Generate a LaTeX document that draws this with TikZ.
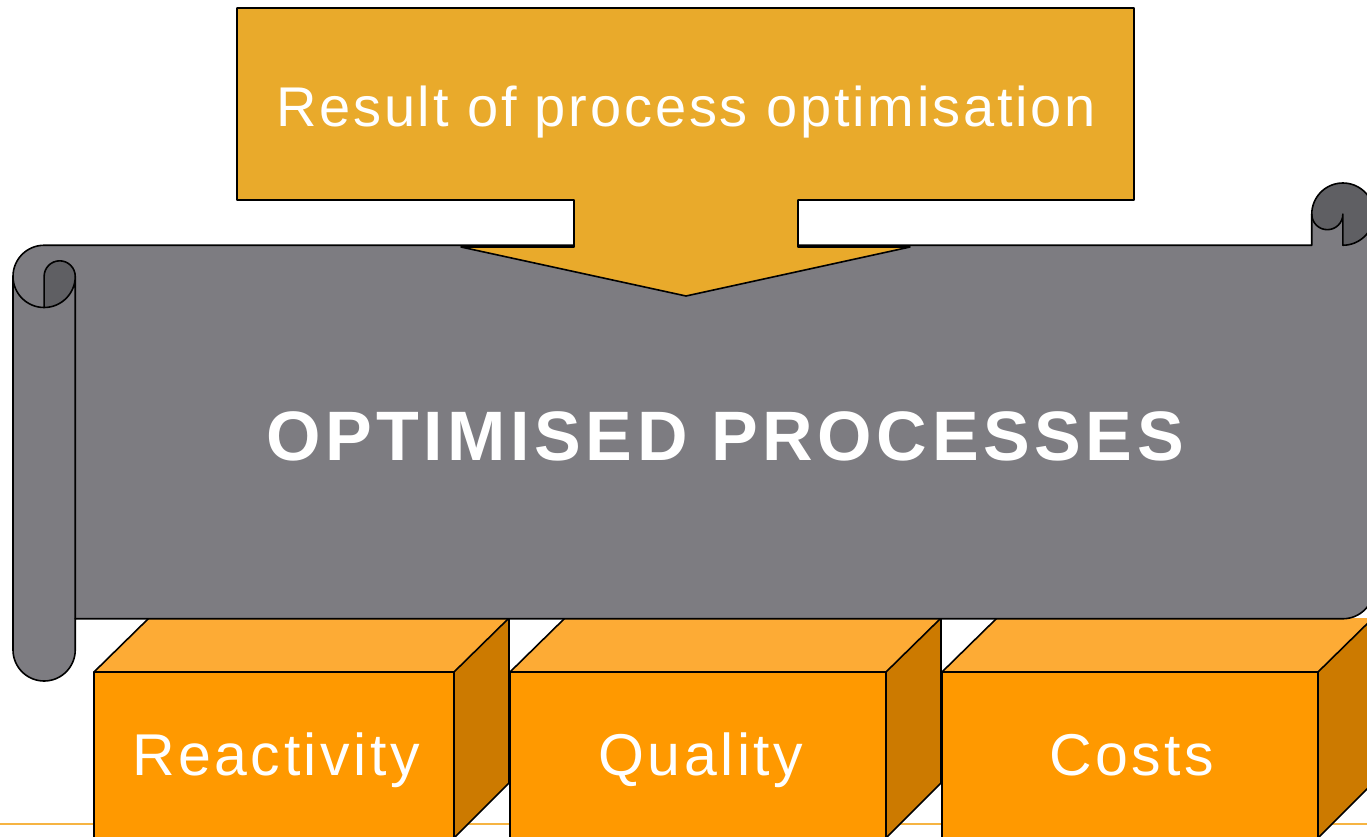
\documentclass[tikz,border=0pt]{standalone}
\usepackage{fontspec}
\setmainfont{Liberation Sans}
\newfontfamily\trackA[LetterSpace=5]{Liberation Sans}
\newfontfamily\trackB[LetterSpace=6.5]{Liberation Sans}
\newfontfamily\trackC[LetterSpace=6]{Liberation Sans}
\definecolor{scrolllight}{HTML}{7D7C81}
\definecolor{scrolldark}{HTML}{5F5F63}
\definecolor{arrowfill}{HTML}{E9AA2B}
\definecolor{boxfront}{HTML}{FF9900}
\definecolor{boxtop}{HTML}{FDAB35}
\definecolor{boxside}{HTML}{CC7A00}
\definecolor{lineorange}{HTML}{F6B443}
\tikzset{
  outl/.style={draw=black, line width=1.6pt, line join=round},
  lbl/.style={text=white, inner sep=0pt, anchor=base},
}
\newcommand{\cube}[3]{% x, width, name
  \fill[boxfront] (#1,672) rectangle (#1+#2,840);
  \fill[boxtop] (#1,672) -- (#1+#2,672) -- (#1+#2+55,618) -- (#1+55,618) -- cycle;
  \fill[boxside] (#1+#2,672) -- (#1+#2+55,618) -- (#1+#2+55,783) -- (#1+#2,838) -- cycle;
  \draw[outl] (#1,840) -- (#1,672) -- (#1+#2,672) -- (#1+#2,840);
  \draw[outl] (#1,672) -- (#1+55,618);
  \draw[outl] (#1+#2,672) -- (#1+#2+55,618) -- (#1+#2+55,783) -- (#1+#2,838);
}
\begin{document}
\begin{tikzpicture}[x=1pt,y=-1pt]
\useasboundingbox (0,0) rectangle (1367,837);
\clip (0,0) rectangle (1367,837);
\fill[white] (0,0) rectangle (1367,837);
% bottom line
\draw[draw=lineorange, line width=1.6pt] (0,824) -- (1367,824);
% cubes
\cube{94}{360}{c1}
\cube{510}{376}{c2}
\cube{942}{376}{c3}
% scroll
\def\cc{62.25}\def\ch{31.125}\def\cq{15.5625}
\fill[scrolllight] (13,276.375) arc[start angle=180,end angle=270,radius=\ch]
  -- (1311.75,245.25) -- (1311.75,214.125) arc[start angle=180,end angle=360,radius=\ch]
  -- (1374,587.625) arc[start angle=0,end angle=90,radius=\ch]
  -- (75.25,618.75) -- (75.25,649.875) arc[start angle=0,end angle=180,radius=\ch] -- cycle;
\fill[scrolldark] (44.125,307.5) -- (44.125,276.375) arc[start angle=180,end angle=360,radius=\cq]
  arc[start angle=0,end angle=90,radius=\ch] -- cycle;
\fill[scrolldark] (1311.75,214.125) arc[start angle=180,end angle=360,radius=\ch]
  arc[start angle=0,end angle=90,radius=\ch] -- (1342.875,214.125)
  arc[start angle=0,end angle=180,radius=\cq] -- cycle;
\draw[outl] (13,276.375) arc[start angle=180,end angle=270,radius=\ch]
  -- (1311.75,245.25) -- (1311.75,214.125) arc[start angle=180,end angle=360,radius=\ch]
  -- (1374,587.625) arc[start angle=0,end angle=90,radius=\ch]
  -- (75.25,618.75) -- (75.25,649.875) arc[start angle=0,end angle=180,radius=\ch] -- cycle;
\draw[outl] (75.25,618.75) -- (75.25,276.375) arc[start angle=0,end angle=180,radius=\ch];
\draw[outl] (44.125,307.5) -- (44.125,276.375) arc[start angle=180,end angle=360,radius=\cq];
\draw[outl] (1374,214.125) arc[start angle=0,end angle=90,radius=\ch] -- (1342.875,214.125)
  arc[start angle=0,end angle=180,radius=\cq];
% callout arrow
\filldraw[fill=arrowfill, outl] (237,8) -- (1134,8) -- (1134,200) -- (798,200) -- (798,247)
  -- (910,247) -- (686,296) -- (461,247) -- (574,247) -- (574,200) -- (237,200) -- cycle;
% texts
\node[lbl, font=\trackA\fontsize{56}{60}\selectfont] (result) at (686,127) {Result of process optimisation};
\node[lbl, font=\trackB\bfseries\fontsize{70}{80}\selectfont] (title) at (725,460) {OPTIMISED PROCESSES};
\node[lbl, font=\trackC\fontsize{59}{64}\selectfont] (react) at (276,775) {Reactivity};
\node[lbl, font=\trackC\fontsize{59}{64}\selectfont] (qual) at (701,775) {Quality};
\node[lbl, font=\trackC\fontsize{59}{64}\selectfont] (costs) at (1132,775) {Costs};
\end{tikzpicture}
\end{document}
